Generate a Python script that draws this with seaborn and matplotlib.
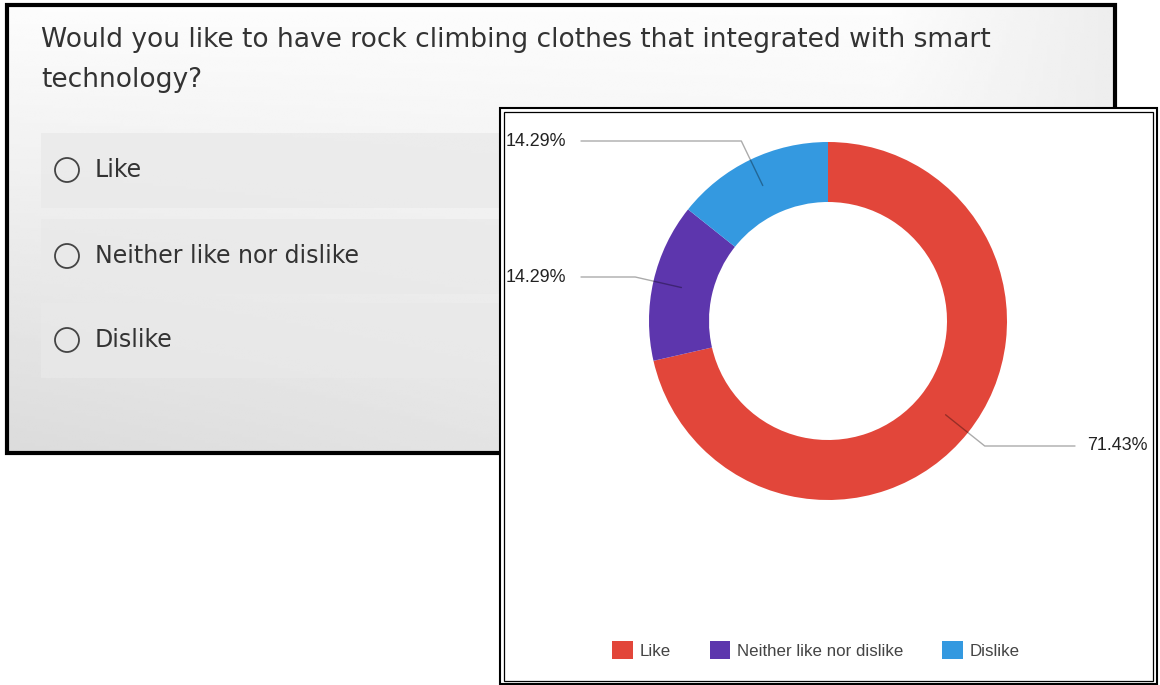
import numpy as np
import matplotlib
matplotlib.use("Agg")
import matplotlib.pyplot as plt
from matplotlib.patches import Rectangle, Circle
import seaborn as sns

# survey data
question_lines = ["Would you like to have rock climbing clothes that integrated with smart",
                  "technology?"]
answers = ["Like", "Neither like nor dislike", "Dislike"]
responses = [5, 1, 1]
colors = ["#e2463a", "#5d36ad", "#3499e0"]

sns.set_theme(style="white")
plt.rcParams["font.family"] = ["Liberation Sans", "DejaVu Sans"]

W, H = 1160, 685
fig = plt.figure(figsize=(W / 100, H / 100), dpi=100)
ax = fig.add_axes([0, 0, 1, 1])

def Y(py):
    # screenshot pixel row -> axis y
    return H - py

# ---- left panel (survey question screenshot)
gx = np.linspace(0, 1, 300)
gy = np.linspace(0, 1, 150)
xx, yy = np.meshgrid(gx, gy)
shade = 0.99 - 0.13 * yy * (1 - 0.55 * xx) - 0.06 * np.clip(xx - 0.8, 0, 1) * 5 * (1 - yy)
ax.imshow(shade, cmap="gray", vmin=0, vmax=1, extent=(7, 1115, Y(453), Y(5)),
          aspect="auto", zorder=0, interpolation="bilinear")
ax.add_patch(Rectangle((7, Y(453)), 1108, 448, fill=False, edgecolor="black", lw=3, zorder=1))

for i, line in enumerate(question_lines):
    ax.text(41, Y(40 + 40 * i), line, fontsize=19.1, color="#333333", va="center",
            family="DejaVu Sans", zorder=2)

row_top = [133, 219, 303]
for i, ans in enumerate(answers):
    top = row_top[i]
    ax.add_patch(Rectangle((41, Y(top + 75)), 1040, 75, facecolor="#e9e9e9", alpha=0.75,
                           edgecolor="none", zorder=1))
    cy = Y(top + 37)
    ax.add_patch(Circle((67, cy), 12, fill=False, edgecolor="#444444", lw=1.3, zorder=2))
    ax.text(95, cy, ans, fontsize=17, color="#333333", va="center",
            family="DejaVu Sans", zorder=2)

# ---- right panel (donut chart)
ax.add_patch(Rectangle((500, Y(684)), 657, 576, facecolor="white", edgecolor="black", lw=1.5, zorder=3))
ax.add_patch(Rectangle((504, Y(681)), 649, 569, fill=False, edgecolor="black", lw=0.9, zorder=3))

cx, cyp, R = 828, 321, 179
wedges, _ = ax.pie(responses, colors=colors, startangle=90, counterclock=False,
                   radius=R, center=(cx, Y(cyp)), frame=True,
                   wedgeprops=dict(width=60, edgecolor="none"))
for w in wedges:
    w.set_zorder(4)

total = sum(responses)
label_y = [446, 277, 141]
label_side = ["right", "left", "left"]
for w, n, ly, side in zip(wedges, responses, label_y, label_side):
    mid = np.deg2rad((w.theta1 + w.theta2) / 2)
    ux, uy = np.cos(mid), np.sin(mid)
    ax0, ay0 = cx + 0.84 * R * ux, Y(cyp) + 0.84 * R * uy
    t = (Y(ly) - ay0) / uy
    ex = ax0 + t * ux
    lx = 1075 if side == "right" else 581
    ax.plot([ax0, ex, lx], [ay0, Y(ly), Y(ly)], color="black", alpha=0.33, lw=1, zorder=5)
    txt = f"{100 * n / total:.2f}%"
    if side == "right":
        ax.text(1148, Y(ly), txt, ha="right", va="center", fontsize=12.9, color="#222222", zorder=5)
    else:
        ax.text(506, Y(ly), txt, ha="left", va="center", fontsize=12.9, color="#222222", zorder=5)

leg = ax.legend(wedges, answers, ncol=3, loc="center", bbox_to_anchor=(816 / W, Y(650) / H),
                frameon=False, fontsize=12.2, handlelength=1.2, handleheight=1.2,
                handletextpad=0.4, columnspacing=2.3, labelcolor="#444444")
leg.set_zorder(6)

ax.set_xlim(0, W)
ax.set_ylim(0, H)
ax.set_aspect("auto")
ax.set_axis_off()

plt.savefig("out.png", dpi=100)
